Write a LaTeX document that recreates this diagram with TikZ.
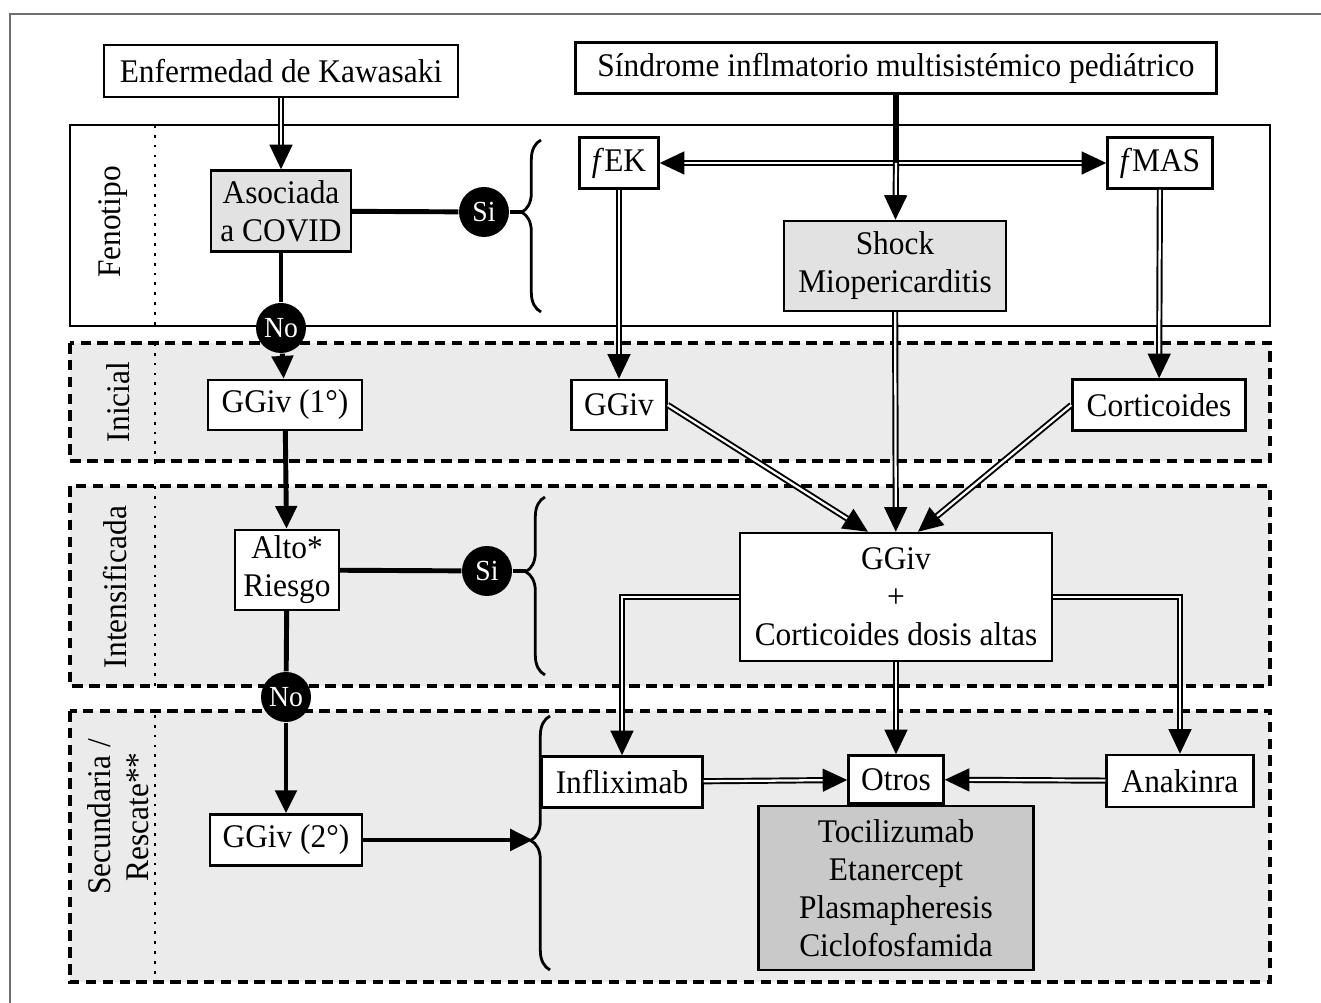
\documentclass[tikz,border=0pt]{standalone}
\usepackage{fontspec}
\setmainfont{Liberation Serif}[FakeStretch=0.95]
\usepackage{tikz}
\usetikzlibrary{shapes,arrows,positioning,calc,decorations.pathreplacing,arrows.meta}

\definecolor{bandgray}{HTML}{EBEBEB}
\definecolor{boxgray}{HTML}{E2E2E2}
\definecolor{listgray}{HTML}{C9C9C9}
\definecolor{framegray}{HTML}{6E6E6E}

\begin{document}
\begin{tikzpicture}[
    font=\fontsize{9.4}{10.8}\selectfont,
    box/.style={draw, rectangle, line width=0.7pt, fill=white, align=center, inner sep=0pt},
    band/.style={draw, dashed, dash pattern=on 3pt off 1.8pt, line width=0.9pt, fill=bandgray},
    sep/.style={dotted, line width=0.8pt},
    phase/.style={rotate=90, align=center},
    dot/.style={circle, fill=black, text=white, inner sep=0pt, minimum size=0.50cm, font=\fontsize{8.3}{9}\selectfont},
    thk/.style={line width=1.4pt},
    thkarr/.style={line width=1.4pt, -{Triangle[length=6.5pt,width=6pt]}},
    dbl/.style={double, double distance=0.65pt, line width=0.55pt, -{Triangle[length=7pt,width=6.5pt]}},
    brc/.style={decorate, line width=0.8pt, decoration={brace, amplitude=5.5pt}}
]
\useasboundingbox (0,0) rectangle (13.21,-10.03);

% marco
\draw[framegray, line width=0.6pt] (0.10,-10.03) -- (0.10,-0.14) -- (13.21,-0.14);

% bandas
\draw[line width=0.8pt] (0.70,-1.25) rectangle (12.70,-3.26);
\draw[band] (0.70,-3.43) rectangle (12.70,-4.61);
\draw[band] (0.70,-4.86) rectangle (12.70,-6.86);
\draw[band] (0.70,-7.11) rectangle (12.70,-9.82);
\draw[sep] (1.55,-1.25) -- (1.55,-3.30);
\draw[sep] (1.55,-3.43) -- (1.55,-4.65);
\draw[sep] (1.55,-4.86) -- (1.55,-6.90);
\draw[sep] (1.55,-7.15) -- (1.55,-9.82);
\node[phase] (fenotipo) at (1.13,-2.22) {Fenotipo};
\node[phase] (inicial) at (1.18,-4.02) {Inicial};
\node[phase] (intens) at (1.15,-5.87) {Intensificada};
\node[phase] (secund) at (1.18,-8.17) {Secundaria /\\Rescate**};

% nodos
\node[box, minimum width=3.54cm, minimum height=0.52cm] (kawa) at (2.81,-0.71) {Enfermedad de Kawasaki};
\node[box, minimum width=6.41cm, minimum height=0.51cm] (simp) at (8.96,-0.68) {Síndrome inflmatorio multisistémico pediátrico};
\node[box, fill=boxgray, minimum width=1.40cm, minimum height=0.81cm] (covid) at (2.81,-2.11) {Asociada\\a COVID};
\node[box, minimum width=0.79cm, minimum height=0.51cm] (fek) at (6.19,-1.63) {\textit{f}EK};
\node[box, minimum width=1.05cm, minimum height=0.51cm] (fmas) at (11.60,-1.63) {\textit{f}MAS};
\node[box, fill=boxgray, minimum width=2.22cm, minimum height=0.90cm] (shock) at (8.95,-2.66) {Shock\\Miopericarditis};
\node[box, minimum width=1.54cm, minimum height=0.50cm] (ggivuno) at (2.85,-4.05) {GGiv (1°)};
\node[box, minimum width=0.95cm, minimum height=0.50cm] (ggiv) at (6.19,-4.05) {GGiv};
\node[box, minimum width=1.73cm, minimum height=0.51cm] (cortic) at (11.59,-4.05) {Corticoides};
\node[box, minimum width=1.04cm, minimum height=0.80cm] (riesgo) at (2.87,-5.70) {Alto*\\Riesgo};
\node[box, minimum width=3.12cm, minimum height=1.28cm] (combo) at (8.96,-5.97) {GGiv\\+\\Corticoides dosis altas};
\node[box, minimum width=1.52cm, minimum height=0.51cm] (ggivdos) at (2.86,-8.40) {GGiv (2°)};
\node[box, minimum width=1.61cm, minimum height=0.51cm] (inflix) at (6.22,-7.82) {Infliximab};
\node[box, minimum width=1.47cm, minimum height=0.52cm] (anakin) at (11.80,-7.81) {Anakinra};
\node[box, fill=listgray, minimum width=2.75cm, minimum height=1.64cm] (lista) at (8.96,-8.88) {Tocilizumab\\Etanercept\\Plasmapheresis\\Ciclofosfamida};
\node[box, minimum width=0.95cm, minimum height=0.48cm, anchor=south] (otros) at (lista.north) {Otros};

% decisiones
\node[dot] (siuno) at (4.84,-2.12) {Si};
\node[dot] (nouno) at (2.81,-3.28) {No};
\node[dot] (sidos) at (4.87,-5.71) {Si};
\node[dot] (nodos) at (2.86,-6.97) {No};

% llaves
\draw[brc, decoration={aspect=0.58}] (5.41,-3.12) -- (5.41,-1.40);
\draw[brc, decoration={aspect=0.58}] (5.45,-6.75) -- (5.45,-4.97);
\draw[brc, decoration={aspect=0.51}] (5.50,-9.70) -- (5.50,-7.16);
\coordinate (tipuno) at (5.22,-2.12);
\coordinate (tipdos) at (5.26,-5.71);
\coordinate (tiptres) at (5.33,-8.40);

% conexiones
\draw[dbl] (kawa) -- (covid);
\draw[thk] (covid) -- (siuno);
\draw[thk] (siuno) -- (tipuno);
\draw[thk] (covid) -- (nouno);
\draw[thkarr] (nouno) -- (ggivuno);
\draw[thkarr] (ggivuno) -- (riesgo);
\draw[thk] (riesgo) -- (sidos);
\draw[thk] (sidos) -- (tipdos);
\draw[thk] (riesgo) -- (nodos);
\draw[thkarr] (nodos) -- (ggivdos);
\draw[thkarr] (ggivdos) -- (tiptres);

\draw[dbl, {Triangle[length=7pt,width=6.5pt]}-{Triangle[length=7pt,width=6.5pt]}] (fek) -- (fmas);
\draw[line width=1.6pt] (simp) -- (simp |- fek);
\draw[dbl] (simp |- fek) -- (shock);
\draw[dbl] (fek) -- (ggiv);
\draw[dbl] (fmas) -- (cortic);
\draw[dbl] (ggiv.east) -- ([xshift=-2.8mm]combo.north);
\draw[dbl] (shock) -- (combo);
\draw[dbl] (cortic.west) -- ([xshift=2.2mm]combo.north);
\draw[dbl] (combo.west) -| (inflix);
\draw[dbl] (combo.east) -| (anakin);
\draw[dbl] (combo) -- (otros);
\draw[dbl] (inflix) -- (otros);
\draw[dbl] (anakin) -- (otros);
\end{tikzpicture}
\end{document}
